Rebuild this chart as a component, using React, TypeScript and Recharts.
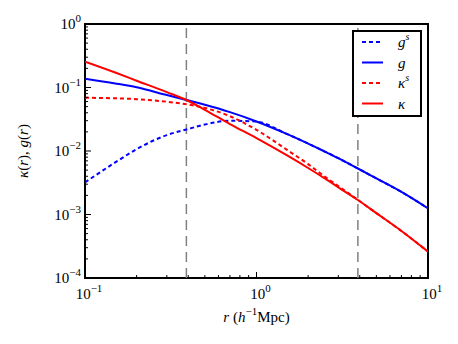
// Correlation functions κ(r), g(r) on log–log axes, matplotlib-style frame
import { LineChart, Line, XAxis, YAxis, ReferenceLine, ReferenceArea, Legend, Label } from 'recharts'

const rValues = [0.1, 0.15, 0.2, 0.3, 0.39, 0.5, 0.7, 1, 1.5, 2, 2.5, 3, 3.9, 5, 7, 10]
const gSValues = [0.0032, 0.0066, 0.0107, 0.0178, 0.0218, 0.0261, 0.03, 0.029, 0.0186, 0.0131, 0.0098, 0.0077, 0.0053, 0.0037, 0.00227, 0.00125]
const gValues = [0.138, 0.116, 0.1007, 0.076, 0.0636, 0.0534, 0.0409, 0.0292, 0.0186, 0.0131, 0.0098, 0.0077, 0.0053, 0.0037, 0.00227, 0.00125]
const kSValues = [0.069, 0.0676, 0.0655, 0.0597, 0.0545, 0.0476, 0.0353, 0.0215, 0.0105, 0.0062, 0.00395, 0.0028, 0.0017, 0.00105, 0.00055, 0.00026]
const kValues = [0.255, 0.172, 0.128, 0.0845, 0.0636, 0.0445, 0.0266, 0.016, 0.0086, 0.0054, 0.0037, 0.00268, 0.00169, 0.00105, 0.00055, 0.00026]

const xMajor = [0.1, 1, 10]
const yMajor = [0.0001, 0.001, 0.01, 0.1, 1]
const xExp: Record<number, string> = { 0.1: '−1', 1: '0', 10: '1' }
const yExp: Record<number, string> = { 0.0001: '−4', 0.001: '−3', 0.01: '−2', 0.1: '−1', 1: '0' }
const markers = [0.39, 3.9]

const series = [
  { key: 'gS', name: 'g', sup: 's', color: '#0000ff', dash: '4 3' },
  { key: 'g', name: 'g', sup: '', color: '#0000ff', dash: undefined },
  { key: 'kS', name: 'κ', sup: 's', color: '#ff0000', dash: '4 3' },
  { key: 'k', name: 'κ', sup: '', color: '#ff0000', dash: undefined },
]

const data = rValues.map((r, i) => ({ r, gS: gSValues[i], g: gValues[i], kS: kSValues[i], k: kValues[i] }))

// minor ticks 2..9 in each decade
const minors = (decades: number[]) => decades.flatMap((d) => [2, 3, 4, 5, 6, 7, 8, 9].map((m) => +(m * d).toPrecision(3)))
const xTicks = [...xMajor, ...minors([0.1, 1])]
const yTicks = [...yMajor, ...minors([0.0001, 0.001, 0.01, 0.1])]

const FONT = '"Liberation Serif", "DejaVu Serif", serif'
const MAJOR = 6
const MINOR = 3

const isMajor = (v: number, list: number[]) => list.some((m) => Math.abs(m - v) / m < 1e-6)

function makeTick(side: 'bottom' | 'top' | 'left' | 'right') {
  return (props: any) => {
    const { x, y, payload } = props
    const v = payload.value
    const major = side === 'bottom' || side === 'top' ? isMajor(v, xMajor) : isMajor(v, yMajor)
    const len = major ? MAJOR : MINOR
    let line
    if (side === 'bottom') line = <line x1={x} x2={x} y1={y} y2={y - len} stroke="#000" />
    else if (side === 'top') line = <line x1={x} x2={x} y1={y} y2={y + len} stroke="#000" />
    else if (side === 'left') line = <line x1={x} x2={x + len} y1={y} y2={y} stroke="#000" />
    else line = <line x1={x} x2={x - len} y1={y} y2={y} stroke="#000" />
    let label = null
    if (major && side === 'bottom') {
      label = (
        <text x={x + 4} y={y + 21} textAnchor="middle" style={{ fontFamily: FONT }} fontSize={15} fill="#000">
          <tspan>10</tspan>
          <tspan dy={-7} fontSize={11}>{xExp[v]}</tspan>
        </text>
      )
    }
    if (major && side === 'left') {
      label = (
        <text x={x - 4} y={y + 5} textAnchor="end" style={{ fontFamily: FONT }} fontSize={15} fill="#000">
          <tspan>10</tspan>
          <tspan dy={-7} fontSize={11}>{yExp[v]}</tspan>
        </text>
      )
    }
    return (
      <g>
        {line}
        {label}
      </g>
    )
  }
}

function LegendBox() {
  return (
    <svg width={72} height={88} style={{ display: 'block' }}>
      <rect x={1} y={1} width={68} height={85} fill="#fff" stroke="#000" strokeWidth={2} />
      {series.map((s, i) => {
        const y = 12 + i * 20.5
        return (
          <g key={s.key}>
            <line x1={10} x2={31} y1={y} y2={y} stroke={s.color} strokeWidth={2} strokeDasharray={s.dash} />
            <text x={46} y={y + 5} style={{ fontFamily: FONT }} fontStyle="italic" fontSize={15} fill="#000">
              <tspan>{s.name}</tspan>
              {s.sup && (
                <tspan dy={-7} fontSize={10}>
                  {s.sup}
                </tspan>
              )}
            </text>
          </g>
        )
      })}
    </svg>
  )
}

export default function App() {
  return (
    <LineChart width={450} height={336} data={data} margin={{ top: 16, right: 30, left: 0, bottom: 0 }}>
      <XAxis
        dataKey="r"
        type="number"
        scale="log"
        domain={[0.1, 10]}
        allowDataOverflow
        ticks={xTicks}
        interval={0}
        tickLine={false}
        axisLine={false}
        tickSize={0}
        tickMargin={0}
        height={66}
        tick={makeTick('bottom')}
      >
        <Label
          content={(p: any) => {
            const vb = p.viewBox
            return (
              <text x={vb.x + vb.width / 2} y={vb.y + 44} textAnchor="middle" style={{ fontFamily: FONT }} fontSize={15} fill="#000">
                <tspan fontStyle="italic">r</tspan>
                <tspan> (</tspan>
                <tspan fontStyle="italic">h</tspan>
                <tspan dy={-7} fontSize={11}>−1</tspan>
                <tspan dy={7}>Mpc)</tspan>
              </text>
            )
          }}
        />
      </XAxis>
      <XAxis
        xAxisId="top"
        orientation="top"
        dataKey="r"
        type="number"
        scale="log"
        domain={[0.1, 10]}
        allowDataOverflow
        ticks={xTicks}
        interval={0}
        tickLine={false}
        axisLine={false}
        tickSize={0}
        tickMargin={0}
        height={0}
        tick={makeTick('top')}
      />
      <YAxis
        type="number"
        scale="log"
        domain={[0.0001, 1]}
        allowDataOverflow
        ticks={yTicks}
        interval={0}
        tickLine={false}
        axisLine={false}
        tickSize={0}
        tickMargin={0}
        width={77}
        tick={makeTick('left')}
      >
        <Label
          content={(p: any) => {
            const vb = p.viewBox
            const cx = 20
            const cy = vb.y + vb.height / 2
            return (
              <text x={cx} y={cy} transform={`rotate(-90 ${cx} ${cy})`} textAnchor="middle" style={{ fontFamily: FONT }} fontSize={15} fill="#000">
                <tspan fontStyle="italic">κ</tspan>
                <tspan>(</tspan>
                <tspan fontStyle="italic">r</tspan>
                <tspan>),  </tspan>
                <tspan fontStyle="italic">g</tspan>
                <tspan>(</tspan>
                <tspan fontStyle="italic">r</tspan>
                <tspan>)</tspan>
              </text>
            )
          }}
        />
      </YAxis>
      <YAxis
        yAxisId="right"
        orientation="right"
        type="number"
        scale="log"
        domain={[0.0001, 1]}
        allowDataOverflow
        ticks={yTicks}
        interval={0}
        tickLine={false}
        axisLine={false}
        tickSize={0}
        tickMargin={0}
        width={0}
        tick={makeTick('right')}
      />
      {markers.map((m) => (
        <ReferenceLine key={m} x={m} stroke="#808080" strokeWidth={1.5} strokeDasharray="10 6" />
      ))}
      {series.map((s) => (
        <Line
          key={s.key}
          dataKey={s.key}
          type="monotone"
          stroke={s.color}
          strokeWidth={2}
          strokeDasharray={s.dash}
          dot={false}
          activeDot={false}
          isAnimationActive={false}
        />
      ))}
      <ReferenceArea x1={0.1} x2={10} y1={0.0001} y2={1} fill="none" stroke="#000" strokeWidth={2} ifOverflow="visible" />
      <Legend
        layout="vertical"
        align="center"
        verticalAlign="middle"
        content={() => <LegendBox />}
        wrapperStyle={{ left: 344, top: 22, width: 72, height: 88 }}
      />
    </LineChart>
  )
}
